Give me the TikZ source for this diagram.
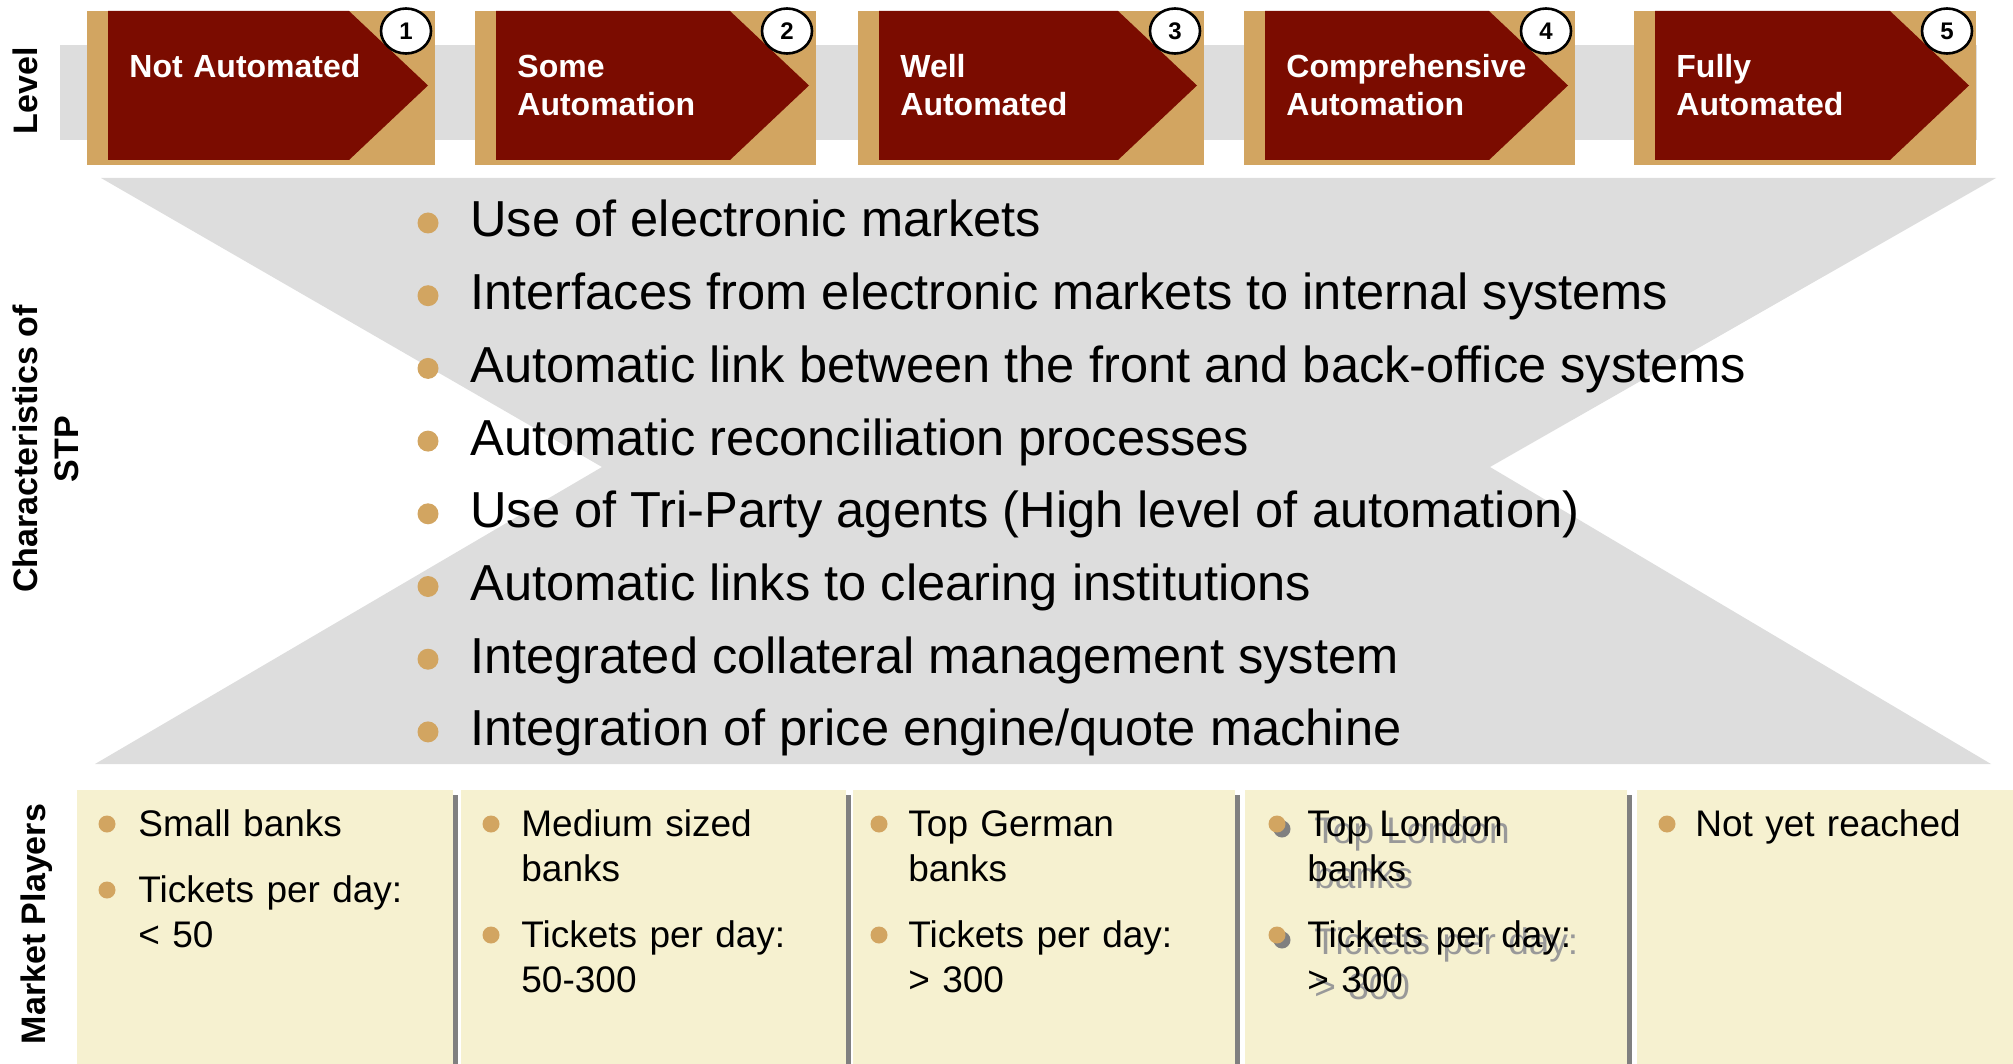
\documentclass[tikz,border=0pt]{standalone}
\usepackage{fontspec}
\setmainfont{Liberation Sans}
\usepackage{tikz}
\usetikzlibrary{shapes}
\definecolor{stagered}{HTML}{7B0C00}
\definecolor{stagetan}{HTML}{D2A561}
\definecolor{bandgray}{HTML}{DDDDDD}
\definecolor{playerbg}{HTML}{F6F1D0}
\definecolor{shadowgray}{HTML}{808080}
\tikzstyle{stagetext}=[text=white,anchor=base west,inner sep=0pt,text width=150pt,align=left,
font=\fontsize{16}{19}\selectfont\bfseries]
\tikzstyle{stagenum}=[ellipse,draw=black,line width=1.3pt,fill=white,inner sep=0pt,
minimum width=25pt,minimum height=22.5pt,font=\fontsize{12}{14}\selectfont\bfseries]
\tikzstyle{sidelabel}=[rotate=90,align=center,inner sep=0pt,font=\fontsize{17}{20.5}\selectfont\bfseries]
\tikzstyle{stpdot}=[circle,fill=stagetan,inner sep=0pt,minimum size=10.5pt]
\tikzstyle{stpitem}=[anchor=base west,inner sep=0pt,font=\fontsize{25.3}{30}\selectfont]
\tikzstyle{playerdot}=[circle,fill=stagetan,inner sep=0pt,minimum size=8.5pt]
\tikzstyle{playeritem}=[anchor=base west,inner sep=0pt,text width=165pt,align=left,
font=\fontsize{18.5}{22.5}\selectfont]
\tikzstyle{playershadow}=[playeritem,text=black!40]

\begin{document}
\begin{tikzpicture}[x=0.5pt,y=-0.5pt]
	\useasboundingbox (0,0) rectangle (2013,1064);

	% level band and the five stages
	\fill[bandgray] (60,45) rectangle (1977,140);
	\foreach \i/\a/\b/\txt in {1/87/435/{Not Automated},2/475/816/{Some\\Automation},
			3/858/1204/{Well\\Automated},4/1244/1575/{Comprehensive\\Automation},5/1634/1976/{Fully\\Automated}}{
		\fill[stagetan] (\a,11) rectangle (\b,165);
		\fill[stagered] (\a+21,11) -- (\b-86,11) -- (\b-7,85.5) -- (\b-86,160) -- (\a+21,160) -- cycle;
		\node[stagetext] (stage\i) at (\a+42,78) {\txt};
		\node[stagenum] (num\i) at (\b-29,31) {\i};
	}

	\node[sidelabel] (lvl) at (25,91) {Level};
	\node[sidelabel] (stp) at (46,449) {Characteristics of\\STP};
	\node[sidelabel] (mkt) at (37,924) {Market Players};

	% characteristics of STP
	\fill[bandgray] (101,178) -- (1996,178) -- (1490,467) -- (1991,764) -- (95,764) -- (602,467) -- cycle;
	\foreach \txt [count=\k] in {Use of electronic markets,
			Interfaces from electronic markets to internal systems,
			Automatic link between the front and back-office systems,
			Automatic reconciliation processes,
			Use of Tri-Party agents (High level of automation),
			Automatic links to clearing institutions,
			Integrated collateral management system,
			Integration of price engine/quote machine}{
		\node[stpdot] (sdot\k) at (428,223+72.7*\k-72.7) {};
		\node[stpitem] (stp\k) at (470,237+72.7*\k-72.7) {\txt};
	}

	% market players
	\foreach \a/\b [count=\j] in {77/453,461/846,853/1235,1245/1627}{
		\fill[shadowgray] (\b,795) rectangle (\b+5,1064);
		\fill[playerbg] (\a,790) rectangle (\b,1064);
	}
	\fill[playerbg] (1637,790) rectangle (2013,1064);

	\foreach \a/\x/\y/\txt [count=\k] in {107/138/836/{Small banks},107/138/902/{Tickets per day:\\< 50},
			491/521/836/{Medium sized\\banks},491/521/947/{Tickets per day:\\50-300},
			879/908/836/{Top German\\banks},879/908/947/{Tickets per day:\\> 300},
			1667/1695/836/{Not yet reached}}{
		\node[playerdot] (pdot\k) at (\a,\y-12) {};
		\node[playeritem] (pl\k) at (\x,\y) {\txt};
	}

	% shadowed column
	\foreach \y/\txt [count=\k] in {836/{Top London\\banks},947/{Tickets per day:\\> 300}}{
		\node[playerdot,fill=shadowgray] (ldots\k) at (1282,\y-7) {};
		\node[playerdot] (ldot\k) at (1277,\y-12) {};
		\node[playershadow] (lons\k) at (1314,\y+7) {\txt};
		\node[playeritem] (lon\k) at (1307,\y) {\txt};
	}
\end{tikzpicture}
\end{document}
